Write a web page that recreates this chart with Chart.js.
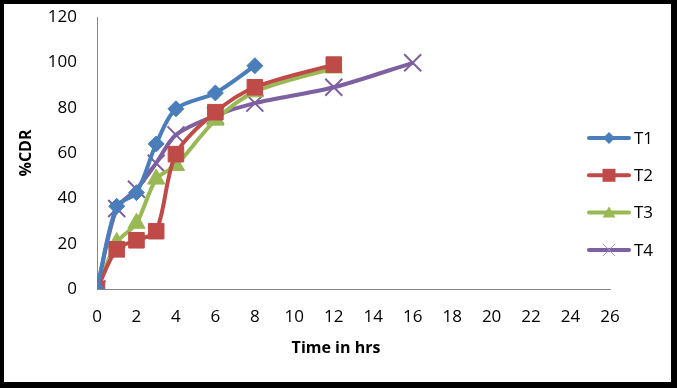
<!DOCTYPE html>
<html>
<head>
<meta charset="utf-8">
<script src="https://cdn.jsdelivr.net/npm/chart.js@4.4.1/dist/chart.umd.min.js"></script>
<style>
    html, body { margin: 0; padding: 0; background: #fff; }
    #wrap { position: relative; width: 677px; height: 388px; }
    #marco {
        position: absolute; left: 0; top: 0; width: 677px; height: 388px;
        box-sizing: border-box; border: solid #000; border-width: 4px 6px 6px 4px;
        pointer-events: none;
    }
</style>
</head>
<body>
<div id="wrap">
    <canvas id="grafica" width="677" height="388"></canvas>
    <div id="marco"></div>
</div>
<script>
// Datos
const tiempos = [0, 1, 2, 3, 4, 6, 8, 12, 16];
const t1 = [0, 36.5, 42.5, 64, 79.5, 86.5, 98.5];
const t2 = [0, 17.5, 21.5, 25.5, 59.5, 78, 89, 99];
const t3 = [0, 20.5, 29, 48.5, 54.5, 74.5, 87, 97.5];
const t4 = [0, 35.5, 44, 55.5, 68, 76.5, 82, 89, 99.8];
const ticksX = [0, 2, 4, 6, 8, 10, 12, 14, 16, 18, 20, 22, 24, 26];
const ticksY = [0, 20, 40, 60, 80, 100, 120];
const tituloX = 'Time in hrs';
const tituloY = '%CDR';

const FUENTE = '"Open Sans", "Liberation Sans", sans-serif';

const pares = valores => valores.map((v, i) => ({ x: tiempos[i], y: v }));

// marcador pequeño de la leyenda
function marcador(ctx, tipo, x, y, color) {
    ctx.save();
    ctx.fillStyle = color;
    ctx.strokeStyle = color;
    ctx.beginPath();
    if (tipo === 'rectRot') {
        const r = 6;
        ctx.moveTo(x - r, y); ctx.lineTo(x, y - r); ctx.lineTo(x + r, y); ctx.lineTo(x, y + r);
        ctx.closePath(); ctx.fill();
    } else if (tipo === 'rect') {
        ctx.rect(x - 6.5, y - 6.5, 13, 13); ctx.fill();
    } else if (tipo === 'triangle') {
        ctx.moveTo(x - 6.5, y + 5); ctx.lineTo(x, y - 6); ctx.lineTo(x + 6.5, y + 5);
        ctx.closePath(); ctx.fill();
    } else {
        ctx.strokeStyle = '#9c88c2';
        ctx.lineWidth = 1;
        ctx.moveTo(x - 6, y - 6); ctx.lineTo(x + 6, y + 6);
        ctx.moveTo(x + 6, y - 6); ctx.lineTo(x - 6, y + 6);
        ctx.stroke();
    }
    ctx.restore();
}

// leyenda a la derecha (sobre el área del gráfico) y título del eje X
const leyenda = {
    id: 'leyenda',
    afterDraw(chart) {
        const ctx = chart.ctx;
        chart.data.datasets.forEach((ds, i) => {
            const y = 138 + i * 37.3;
            ctx.save();
            ctx.strokeStyle = ds.borderColor;
            ctx.lineWidth = 4;
            ctx.lineCap = 'round';
            ctx.beginPath();
            ctx.moveTo(589, y);
            ctx.lineTo(629, y);
            ctx.stroke();
            ctx.restore();
            marcador(ctx, ds.pointStyle, 609, y, ds.borderColor);
            ctx.save();
            ctx.fillStyle = '#000';
            ctx.font = '17px ' + FUENTE;
            ctx.textBaseline = 'middle';
            ctx.fillText(ds.label, 634, y + 1);
            ctx.restore();
        });
        ctx.save();
        ctx.fillStyle = '#000';
        ctx.font = 'bold 16px ' + FUENTE;
        ctx.textAlign = 'center';
        ctx.textBaseline = 'middle';
        ctx.fillText(tituloX, 336, 348);
        ctx.restore();
    }
};

function serie(label, datos, color, estilo, radio) {
    return {
        label: label,
        data: pares(datos),
        borderColor: color,
        backgroundColor: color,
        borderWidth: 4,
        tension: 0.3,
        pointStyle: estilo,
        pointRadius: radio,
        pointHoverRadius: radio,
        pointBackgroundColor: color,
        pointBorderColor: color,
        pointBorderWidth: estilo === 'crossRot' ? 2 : 1
    };
}

new Chart(document.getElementById('grafica'), {
    type: 'line',
    data: {
        datasets: [
            serie('T1', t1, '#4a7ebb', 'rectRot', 8),
            serie('T2', t2, '#be4b48', 'rect', 11),
            serie('T3', t3, '#98b954', 'triangle', 10),
            serie('T4', t4, '#7d60a0', 'crossRot', 12)
        ]
    },
    options: {
        responsive: false,
        animation: false,
        layout: { padding: { left: 0, right: 67, top: 17, bottom: 0 } },
        plugins: {
            legend: { display: false },
            tooltip: { enabled: false }
        },
        scales: {
            x: {
                type: 'linear',
                min: ticksX[0],
                max: ticksX[ticksX.length - 1],
                afterBuildTicks: s => { s.ticks = ticksX.map(v => ({ value: v })); },
                afterFit: s => { s.height = 99; },
                grid: { display: false, drawTicks: false },
                border: { color: '#868686', width: 1 },
                ticks: { color: '#000', padding: 18, font: { family: FUENTE, size: 17 } }
            },
            y: {
                min: ticksY[0],
                max: ticksY[ticksY.length - 1],
                afterBuildTicks: s => { s.ticks = ticksY.map(v => ({ value: v })); },
                afterFit: s => { s.width = 97; s.paddingTop = 0; s.paddingBottom = 0; },
                grid: { display: false, drawTicks: false },
                border: { color: '#868686', width: 1 },
                ticks: { color: '#000', padding: 20, font: { family: FUENTE, size: 17 } },
                title: {
                    display: true,
                    text: tituloY,
                    color: '#000',
                    padding: { top: 17, bottom: 0 },
                    font: { family: FUENTE, size: 16, weight: 'bold' }
                }
            }
        }
    },
    plugins: [leyenda]
});
</script>
</body>
</html>
